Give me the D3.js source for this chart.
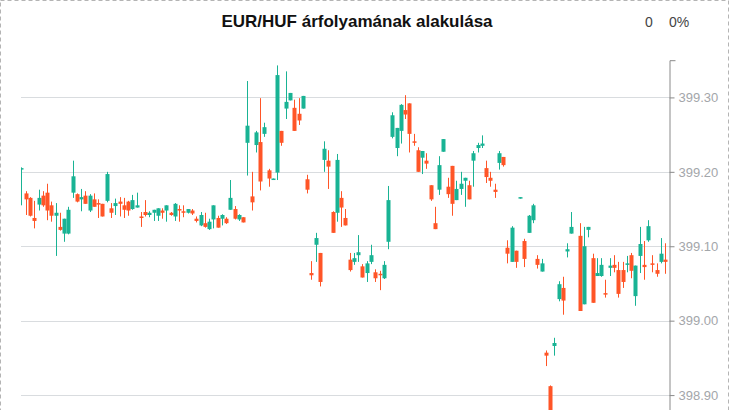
<!DOCTYPE html>
<html>
<head>
<meta charset="utf-8">
<script src="https://cdn.jsdelivr.net/npm/d3@7/dist/d3.min.js"></script>
<style>
  html, body { margin: 0; padding: 0; background: #fff; overflow: hidden; }
  svg { display: block; }
</style>
</head>
<body>
<div id="chart"></div>
<script>
// EUR/HUF candles (one per slot; null = no trade in that slot)
const openPrices = [
  399.203, 399.171, 399.165, 399.138, 399.156, 399.168, 399.172, 399.155, 399.141, 399.126,
  399.117, 399.117, 399.172, 399.170, 399.163, 399.168, 399.148, 399.163, 399.158, 399.157,
  399.161, 399.151, 399.154, 399.160, 399.155, 399.160, 399.150, 399.152, 399.140, 399.146,
  399.142, 399.145, 399.141, 399.148, 399.148, 399.145, 399.140, 399.150, 399.147, 399.145,
  399.148, 399.137, 399.128, 399.131, 399.123, 399.136, 399.138, 399.137, 399.137, 399.149,
  399.150, 399.136, 399.139, 399.239, 399.167, 399.236, 399.240, 399.251, 399.202, 399.190,
  399.199, 399.255, 399.285, 399.296, 399.286, 399.278, 399.285, 399.190, 399.064, 399.102,
  399.091, 399.216, 399.215, 399.146, 399.145, 399.165, 399.138, 399.082, 399.079, 399.088,
  399.073, 399.064, 399.079, 399.065, 399.063, 399.057, 399.106, 399.247, 399.232, 399.255,
  399.283, 399.292, 399.241, 399.229, 399.219, 399.215, 399.182, 399.131, 399.176, 399.227,
  399.180, 399.208, 399.162, 399.177, 399.188, 399.182, 399.215, 399.232, 399.235, 399.205,
  399.192, 399.176, 399.212, 399.220, 399.098, 399.079, 399.094, 399.164, 399.107, 399.118,
  399.135, 399.083, 399.066, 398.957, 398.912, 398.966, 399.029, 399.044, 399.093, 399.117,
  null,    399.114, 399.022, 399.122, 399.084, 399.060, 399.060, 399.037, 399.071, 399.075,
  399.068, 399.068, 399.075, 399.088, 399.033, 399.087, 399.075, 399.108, 399.077, 399.068,
  399.079, 399.082
];
const highPrices = [
  399.206, 399.174, 399.166, 399.161, 399.176, 399.174, 399.184, 399.160, 399.158, 399.145,
  399.137, 399.153, 399.215, 399.171, 399.177, 399.174, 399.170, 399.171, 399.163, 399.157,
  399.200, 399.158, 399.164, 399.166, 399.165, 399.161, 399.169, 399.172, 399.146, 399.162,
  399.147, 399.149, 399.151, 399.151, 399.155, 399.146, 399.158, 399.155, 399.155, 399.150,
  399.150, 399.140, 399.146, 399.145, 399.137, 399.155, 399.141, 399.143, 399.139, 399.189,
  399.154, 399.143, 399.139, 399.322, 399.200, 399.255, 399.299, 399.266, 399.204, 399.191,
  399.343, 399.255, 399.335, 399.306, 399.297, 399.299, 399.302, 399.196, 399.080, 399.118,
  399.091, 399.241, 399.229, 399.147, 399.224, 399.174, 399.150, 399.091, 399.091, 399.115,
  399.076, 399.080, 399.102, 399.069, 399.067, 399.080, 399.181, 399.280, 399.259, 399.291,
  399.303, 399.292, 399.251, 399.233, 399.228, 399.225, 399.182, 399.153, 399.221, 399.244,
  399.192, 399.208, 399.188, 399.200, 399.192, 399.188, 399.228, 399.239, 399.249, 399.215,
  399.200, 399.184, 399.228, 399.220, 399.108, 399.127, 399.094, 399.166, 399.110, 399.142,
  399.157, 399.088, 399.083, 398.960, 398.913, 398.977, 399.053, 399.059, 399.104, 399.146,
  null,    399.131, 399.126, 399.126, 399.090, 399.084, 399.084, 399.055, 399.084, 399.088,
  399.079, 399.079, 399.087, 399.091, 399.074, 399.126, 399.107, 399.135, 399.088, 399.077,
  399.111, 399.104
];
const lowPrices = [
  399.155, 399.142, 399.140, 399.124, 399.148, 399.153, 399.135, 399.133, 399.087, 399.121,
  399.106, 399.116, 399.165, 399.159, 399.147, 399.157, 399.146, 399.153, 399.138, 399.140,
  399.159, 399.138, 399.142, 399.140, 399.138, 399.141, 399.149, 399.152, 399.126, 399.140,
  399.139, 399.134, 399.134, 399.137, 399.133, 399.141, 399.134, 399.133, 399.139, 399.144,
  399.142, 399.132, 399.127, 399.125, 399.122, 399.124, 399.125, 399.128, 399.130, 399.149,
  399.136, 399.134, 399.132, 399.195, 399.148, 399.226, 399.175, 399.247, 399.180, 399.190,
  399.189, 399.235, 399.271, 399.296, 399.255, 399.263, 399.285, 399.171, 399.055, 399.079,
  399.046, 399.200, 399.177, 399.118, 399.133, 399.126, 399.128, 399.066, 399.075, 399.079,
  399.058, 399.052, 399.076, 399.052, 399.041, 399.056, 399.096, 399.245, 399.221, 399.238,
  399.271, 399.226, 399.235, 399.200, 399.197, 399.204, 399.161, 399.123, 399.169, 399.227,
  399.165, 399.141, 399.162, 399.169, 399.153, 399.163, 399.180, 399.226, 399.232, 399.185,
  399.180, 399.165, 399.203, 399.207, 399.077, 399.079, 399.071, 399.164, 399.072, 399.118,
  399.131, 399.070, 399.066, 398.939, 398.840, 398.953, 399.026, 399.008, 399.085, 399.117,
  null,    399.013, 399.022, 399.112, 399.024, 399.060, 399.059, 399.031, 399.060, 399.065,
  399.031, 399.044, 399.065, 399.057, 399.020, 399.064, 399.055, 399.106, 399.065, 399.059,
  399.077, 399.063
];
const closePrices = [
  399.205, 399.163, 399.141, 399.134, 399.165, 399.155, 399.148, 399.141, 399.145, 399.122,
  399.137, 399.149, 399.194, 399.160, 399.166, 399.157, 399.168, 399.153, 399.156, 399.140,
  399.197, 399.145, 399.158, 399.157, 399.149, 399.148, 399.162, 399.155, 399.139, 399.142,
  399.145, 399.149, 399.151, 399.145, 399.155, 399.142, 399.157, 399.148, 399.146, 399.150,
  399.144, 399.134, 399.142, 399.126, 399.133, 399.155, 399.125, 399.142, 399.131, 399.165,
  399.137, 399.142, 399.132, 399.262, 399.159, 399.253, 399.187, 399.260, 399.191, 399.191,
  399.330, 399.239, 399.294, 399.306, 399.255, 399.269, 399.302, 399.176, 399.061, 399.111,
  399.052, 399.231, 399.207, 399.118, 399.216, 399.152, 399.128, 399.068, 399.084, 399.092,
  399.058, 399.077, 399.088, 399.057, 399.061, 399.075, 399.162, 399.276, 399.259, 399.290,
  399.277, 399.251, 399.239, 399.200, 399.228, 399.211, 399.163, 399.123, 399.209, 399.244,
  399.170, 399.157, 399.177, 399.184, 399.192, 399.163, 399.225, 399.236, 399.238, 399.193,
  399.188, 399.173, 399.225, 399.209, 399.090, 399.125, 399.079, 399.166, 399.083, 399.141,
  399.155, 399.075, 399.077, 398.953, 398.850, 398.970, 399.049, 399.027, 399.096, 399.126,
  null,    399.013, 399.100, 399.126, 399.024, 399.064, 399.075, 399.035, 399.074, 399.071,
  399.036, 399.052, 399.077, 399.067, 399.074, 399.103, 399.072, 399.127, 399.075, 399.063,
  399.090, 399.079
];
const yTicks = [398.9, 399.0, 399.1, 399.2, 399.3];
const titleText = "EUR/HUF árfolyamának alakulása";
const changeText = "0";
const changePctText = "0%";

const W = 730, H = 410;
const plot = { left: 21, right: 669.5, top: 60.2 };
const upColor = "#19b394", downColor = "#ff5527";

const slots = d3.range(openPrices.length);
const candles = slots
  .map(i => ({ i, o: openPrices[i], h: highPrices[i], l: lowPrices[i], c: closePrices[i] }))
  .filter(d => d.o !== null);

const svg = d3.select("#chart").append("svg")
  .attr("width", W).attr("height", H)
  .style("font-family", "'Liberation Sans', Arial, sans-serif");

// dashed frame round the widget
svg.append("rect")
  .attr("x", 0.5).attr("y", 0.5)
  .attr("width", W - 2).attr("height", H + 20)
  .attr("fill", "none").attr("stroke", "#b4b4b4")
  .attr("stroke-dasharray", "4,3");

const x = d3.scaleBand()
  .domain(slots)
  .range([19.55, 19.55 + 4.26 * slots.length])
  .paddingInner(0.1);

const y = d3.scaleLinear()
  .domain([398.8, 399.35])
  .range([plot.top + 0.55 * 744.2, plot.top]);

// horizontal grid
svg.append("g").selectAll("line")
  .data(yTicks)
  .join("line")
  .attr("x1", plot.left).attr("x2", plot.right)
  .attr("y1", d => Math.round(y(d)) + 0.5).attr("y2", d => Math.round(y(d)) + 0.5)
  .attr("stroke", "#d9dcdf").attr("stroke-width", 1);

// candles
svg.append("clipPath").attr("id", "plotClip")
  .append("rect")
  .attr("x", plot.left).attr("y", plot.top)
  .attr("width", plot.right - plot.left).attr("height", H);

const gc = svg.append("g").attr("clip-path", "url(#plotClip)");
const cg = gc.selectAll("g.candle")
  .data(candles)
  .join("g")
  .attr("class", "candle")
  .attr("fill", d => d.c >= d.o ? upColor : downColor)
  .attr("stroke", d => d.c >= d.o ? upColor : downColor);

cg.append("line")
  .attr("x1", d => Math.round(x(d.i) + x.bandwidth() / 2) + 0.5)
  .attr("x2", d => Math.round(x(d.i) + x.bandwidth() / 2) + 0.5)
  .attr("y1", d => y(d.h))
  .attr("y2", d => y(d.l))
  .attr("stroke-width", 1);

cg.append("rect")
  .attr("x", d => Math.round(x(d.i) + x.bandwidth() / 2) - 1.5)
  .attr("width", 4)
  .attr("y", d => y(Math.max(d.o, d.c)))
  .attr("height", d => Math.max(1.5, Math.abs(y(d.o) - y(d.c))))
  .attr("stroke", "none");

// price axis on the right; its line runs on past the bottom edge
const axis = svg.append("g")
  .attr("transform", `translate(${plot.right},0)`)
  .call(d3.axisRight(y).tickValues(yTicks).tickFormat(d3.format(".2f")).tickSize(5).tickSizeOuter(6).tickPadding(4));
axis.select(".domain").attr("stroke", "#8a8a8a");
axis.selectAll(".tick line").attr("stroke", "#8a8a8a");
axis.selectAll(".tick text")
  .attr("fill", "#a3a6aa")
  .style("font-size", "13px")
  .style("font-family", "'Liberation Sans', Arial, sans-serif");

// title and change readout
svg.append("text")
  .attr("x", 357).attr("y", 27)
  .attr("text-anchor", "middle")
  .style("font-size", "17px").style("font-weight", "bold")
  .attr("fill", "#111")
  .text(titleText);

svg.append("text")
  .attr("x", 645).attr("y", 27)
  .style("font-size", "14px").attr("fill", "#444")
  .text(changeText);

svg.append("text")
  .attr("x", 669).attr("y", 27)
  .style("font-size", "14px").attr("fill", "#444")
  .text(changePctText);
</script>
</body>
</html>
